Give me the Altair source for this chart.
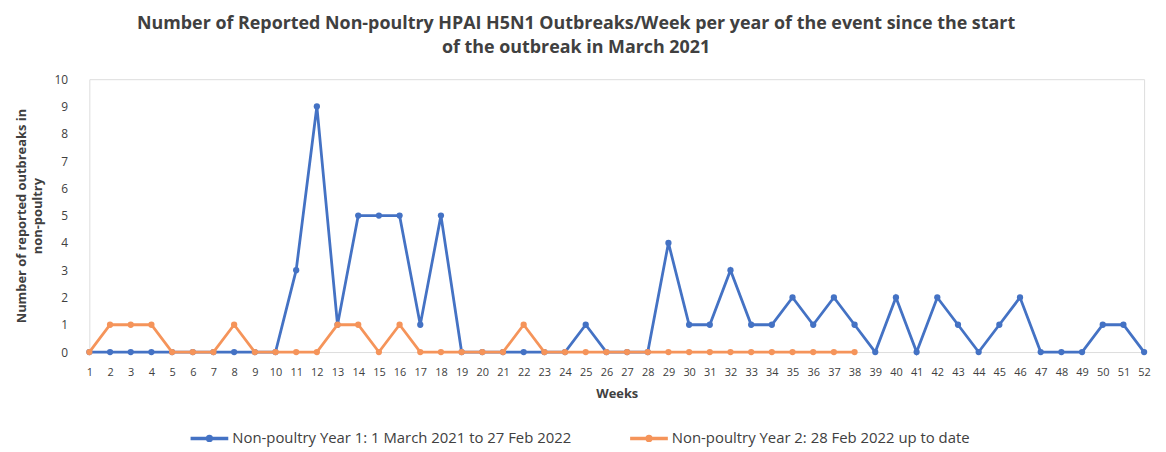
import altair as alt
import pandas as pd

weeks_y1 = list(range(1, 53))
values_y1 = [0, 0, 0, 0, 0, 0, 0, 0, 0, 0, 3, 9, 1, 5, 5, 5, 1, 5, 0, 0,
             0, 0, 0, 0, 1, 0, 0, 0, 4, 1, 1, 3, 1, 1, 2, 1, 2, 1, 0, 2,
             0, 2, 1, 0, 1, 2, 0, 0, 0, 1, 1, 0]
weeks_y2 = list(range(1, 39))
values_y2 = [0, 1, 1, 1, 0, 0, 0, 1, 0, 0, 0, 0, 1, 1, 0, 1, 0, 0, 0, 0,
             0, 1, 0, 0, 0, 0, 0, 0, 0, 0, 0, 0, 0, 0, 0, 0, 0, 0]
series_names = ["Non-poultry Year 1: 1 March 2021 to 27 Feb 2022",
                "Non-poultry Year 2: 28 Feb 2022 up to date"]
series_colors = ["#4472C4", "#F5945A"]

df = pd.concat([
    pd.DataFrame({"week": weeks_y1, "value": values_y1, "series": series_names[0], "order": 0}),
    pd.DataFrame({"week": weeks_y2, "value": values_y2, "series": series_names[1], "order": 1}),
])

FONT = "Open Sans"
TEXT = "#404040"

color = alt.Color(
    "series:N",
    scale=alt.Scale(domain=series_names, range=series_colors),
    legend=alt.Legend(
        title=None,
        orient="none",
        direction="horizontal",
        legendX=100,
        legendY=341,
        symbolType="M-1,0H1M-0.1,0a0.1,0.1 0 1,0 0.2,0a0.1,0.1 0 1,0 -0.2,0",
        symbolSize=1444,
        symbolStrokeWidth=3.5,
        labelFontSize=15,
        labelFont=FONT,
        labelColor=TEXT,
        labelOffset=2,
        labelLimit=0,
        columnPadding=52,
    ),
)

x = alt.X(
    "week:Q",
    scale=alt.Scale(domain=[1, 52], nice=False, zero=False),
    axis=alt.Axis(
        values=weeks_y1, format="d", title="Weeks", ticks=False, domain=False, grid=False,
        labelFontSize=11, labelFont=FONT, labelColor=TEXT, labelPadding=15,
        titleFontSize=13, titleFont=FONT, titleFontWeight="bold", titleColor=TEXT, titlePadding=10,
        labelFlush=False, labelOverlap=False,
    ),
)
y = alt.Y(
    "value:Q",
    scale=alt.Scale(domain=[0, 10], nice=False),
    axis=alt.Axis(
        values=list(range(0, 11)), title=["Number of reported outbreaks in", "non-poultry"],
        ticks=False, domain=False, grid=False,
        labelFontSize=12, labelFont=FONT, labelColor=TEXT, labelPadding=22,
        titleFontSize=13, titleFont=FONT, titleFontWeight="bold", titleColor=TEXT, titlePadding=10,
        titleLineHeight=16,
    ),
)

blue = df[df["order"] == 0]
orange = df[df["order"] == 1]


def layer_for(d):
    base = alt.Chart(d)
    return base.mark_line(strokeWidth=2.8).encode(x=x, y=y, color=color) + \
        base.mark_circle(size=40, opacity=1).encode(x=x, y=y, color=color)


chart = alt.layer(
    layer_for(blue), layer_for(orange)
).properties(
    width=1063,
    height=275,
    autosize=alt.AutoSizeParams(type="none"),
    padding={"left": 82, "top": 70, "right": 14, "bottom": 100},
    title=alt.TitleParams(
        text=["Number of Reported Non-poultry HPAI H5N1 Outbreaks/Week per year of the event since the start",
              "of the outbreak in March 2021"],
        anchor="middle", fontSize=18, font=FONT, fontWeight="bold", color=TEXT,
        lineHeight=25, offset=16, dx=-41,
    ),
).configure_view(stroke=None).configure(background="white")

chart.save("out.html", embed_options={"renderer": "svg", "actions": False})
